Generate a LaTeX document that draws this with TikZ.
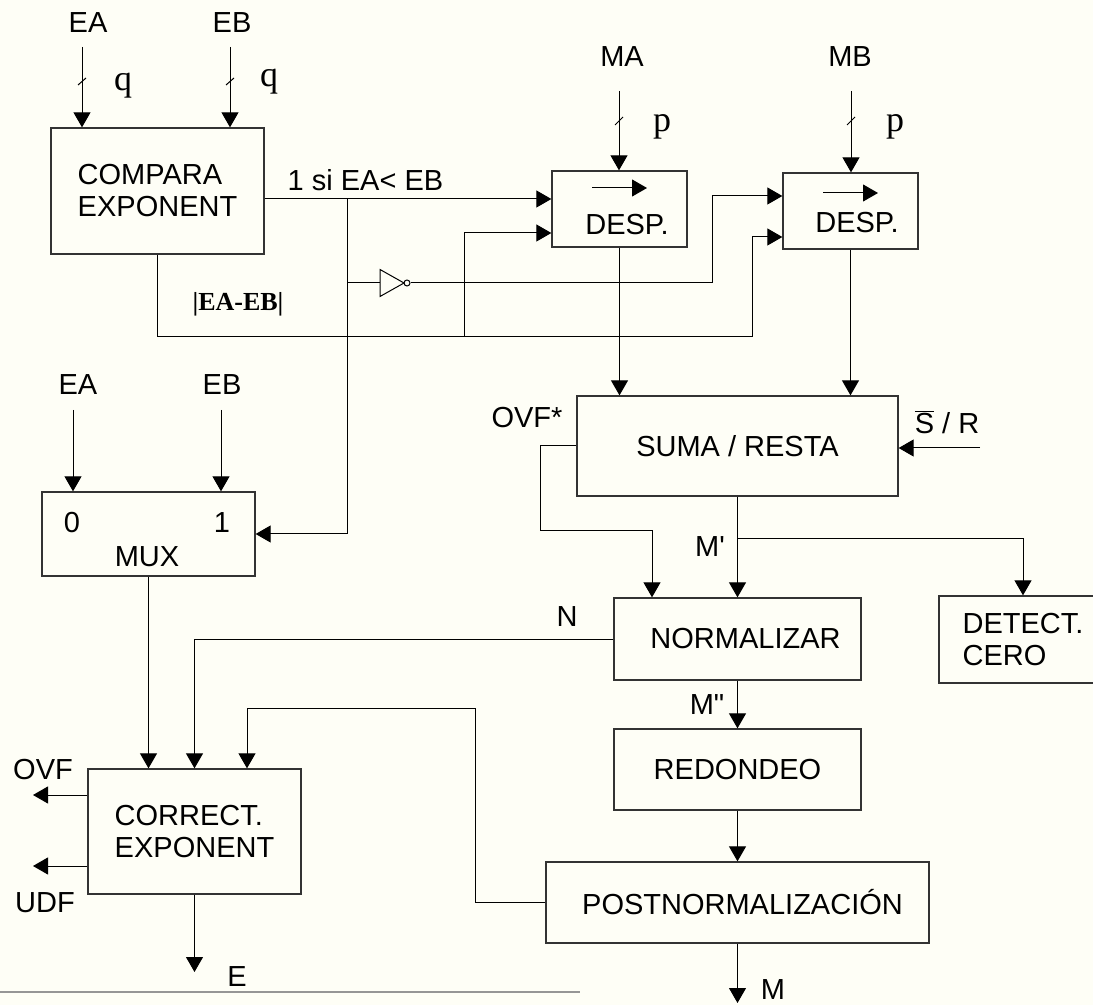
\documentclass[tikz,border=0pt]{standalone}
\usepackage{fontspec}
\setmainfont{Liberation Sans}
\newfontfamily\tmsfont{Liberation Serif}
\usetikzlibrary{arrows.meta,calc}
\definecolor{paper}{RGB}{254,254,246}
\definecolor{rulegray}{RGB}{150,150,150}
\tikzset{
  blk/.style 2 args={draw=black!80,line width=0.65pt,inner sep=0pt,
    minimum width=#1,minimum height=#2},
  lbl/.style={inner sep=0pt},
  wid/.style={inner sep=0pt,font=\tmsfont\fontsize{18}{18}\selectfont}
}

\begin{document}
\begin{tikzpicture}[x=0.5pt,y=-0.5pt,line width=0.5pt,
  >={Triangle[length=7.5pt,width=8.5pt]},
  font=\fontsize{14.5}{16}\selectfont]
  \fill[paper] (0,0) rectangle (1093,1005);
  \useasboundingbox (0,0) rectangle (1093,1005);

  % blocks
  \node[blk={106.5pt}{63pt},align=left] (cmp) at (157.5,191) {COMPARA\\EXPONENT};
  \node[blk={67.5pt}{38pt}] (desA) at (619.5,209) {};
  \node[blk={67.5pt}{38pt}] (desB) at (850.5,211) {};
  \node[blk={106.5pt}{42pt}] (mux) at (148.5,534) {};
  \node[blk={160.5pt}{50pt}] (sum) at (737.5,446) {SUMA / RESTA};
  \node[blk={123.5pt}{41pt}] (nrm) at (737.5,639) {\hspace*{8pt}NORMALIZAR};
  \node[blk={84pt}{43.5pt},align=left] (det) at (1023,639.5) {DETECT.\\CERO};
  \node[blk={123.5pt}{40.5pt}] (red) at (737.5,769.5) {REDONDEO};
  \node[blk={191.5pt}{40.5pt}] (pst) at (737.5,902.5) {\hspace*{5pt}POSTNORMALIZACIÓN};
  \node[blk={106.5pt}{62.5pt},align=left] (cor) at (194.5,831.5) {CORRECT.\\EXPONENT};

  % shifter contents
  \foreach \b/\y/\tx/\ty in {desA/188/627/225, desB/193/857/223} {
    \draw[->] ($(\b.center |- 0,\y)+(-27.5,0)$) -- ++(55,0);
    \node[lbl] (\b-t) at (\tx,\ty) {DESP.};
  }
  \node[lbl] (mux-0) at (72,523) {0};
  \node[lbl] (mux-1) at (222,523) {1};
  \node[lbl] (mux-t) at (147,557) {MUX};

  % exponent and mantissa inputs, with bus width marks
  \foreach \n/\t/\x/\lx/\wx/\wy in {ea/EA/82/88/123/86, eb/EB/230/232/269/82} {
    \node[lbl] (\n-t) at (\lx,23) {\t};
    \coordinate (\n-in) at (\x,47);
    \draw[->] (\n-in) -- (\n-in |- cmp.north);
    \draw (\x-4,85) -- (\x+4,78);
    \node[wid] (\n-q) at (\wx,\wy) {q};
  }
  \foreach \n/\t/\x/\lx/\bx/\wx in {ma/MA/619/622/desA/662, mb/MB/851/850/desB/895} {
    \node[lbl] (\n-t) at (\lx,57) {\t};
    \coordinate (\n-in) at (\x,91);
    \draw[->] (\n-in) -- (\n-in |- \bx.north);
    \draw (\x-4,125) -- (\x+4,117);
    \node[wid] (\n-p) at (\wx,127) {p};
  }
  \foreach \n/\t/\lx/\x in {xa/EA/78/73, xb/EB/222/221} {
    \node[lbl] (\n-t) at (\lx,385) {\t};
    \coordinate (\n-in) at (\x,410);
    \draw[->] (\n-in) -- (\n-in |- mux.north);
  }

  % shifter control
  \coordinate (desAup) at ([yshift=5pt]desA.west);
  \coordinate (desAlo) at ([yshift=-12pt]desA.west);
  \coordinate (desBup) at ([yshift=7.5pt]desB.west);
  \coordinate (desBlo) at ([yshift=-13pt]desB.west);
  \coordinate (lt) at (347,199);
  \coordinate (ij) at (347,283);
  \coordinate (ik) at (712,283);
  \coordinate (dj) at (464,337);
  \coordinate (dk) at (752,337);
  \draw[->] (cmp.east |- desAup) -- (desAup);
  \node[lbl] (lt-t) at (365.5,180) {1 si EA< EB};
  \draw[->] (lt) |- (mux.east);
  \coordinate (inv) at (380,283);
  \draw (ij) -- (inv);
  \draw (inv) ++(0,-13.5) -- ++(24,13.5) -- ++(-24,13.5) -- cycle;
  \node[circle,draw,inner sep=0pt,minimum size=3pt] (bub) at (407,283) {};
  \draw[->] (bub.east) -- (ik) |- (desBup);
  \draw (cmp.south) |- (dk);
  \draw[->] (dj) |- (desAlo);
  \draw[->] (dk) |- (desBlo);
  \node[lbl,font=\tmsfont\bfseries\fontsize{13}{13}\selectfont] (dif-t) at (238,304) {|EA-EB|};

  % mantissa path
  \draw[->] (desA.south) -- (desA.south |- sum.north);
  \draw[->] (desB.south) -- (desB.south |- sum.north);
  \coordinate (sr-in) at (980,448);
  \draw[->] (sr-in) -- (sr-in -| sum.east);
  \node[lbl] (sr-t) at (947,422) {$\overline{\mbox{S}}$ / R};
  \coordinate (oa) at (540,531);
  \coordinate (nrmL) at ([xshift=-42.75pt]nrm.north);
  \draw[->] (sum.west) -| (oa) -| (nrmL);
  \node[lbl] (ovf-s) at (527,418) {OVF*};
  \coordinate (mj) at (737.5,539);
  \draw[->] (sum.south) -- (nrm.north);
  \draw[->] (mj) -| (det.north);
  \node[lbl] (mj-t) at (710,547) {M\textquotesingle};
  \draw[->] (nrm.south) -- (red.north);
  \node[lbl] (m2-t) at (707,705) {M\textquotedbl};
  \draw[->] (red.south) -- (pst.north);
  \coordinate (m-out) at (737.5,1003);
  \draw[->] (pst.south) -- (m-out);
  \node[lbl] (m-t) at (773,990) {M};

  % exponent correction
  \draw[->] (mux.south) -- (mux.south |- cor.north);
  \draw[->] (nrm.west) -| (cor.north);
  \node[lbl] (n-t) at (567,617) {N};
  \coordinate (fb) at (475,708);
  \coordinate (corR) at ([xshift=26.25pt]cor.north);
  \draw[->] (pst.west) -| (fb) -| (corR);
  \coordinate (ovf) at (33,795);
  \coordinate (udf) at (33,866);
  \draw[->] (cor.west |- ovf) -- (ovf);
  \draw[->] (cor.west |- udf) -- (udf);
  \node[lbl] (ovf-t) at (43,770) {OVF};
  \node[lbl] (udf-t) at (45,903) {UDF};
  \coordinate (e-out) at (194.5,972);
  \draw[->] (cor.south) -- (e-out);
  \node[lbl] (e-t) at (237,977) {E};
  \draw[rulegray,line width=1pt] (0,992) -- (580,992);
\end{tikzpicture}
\end{document}
